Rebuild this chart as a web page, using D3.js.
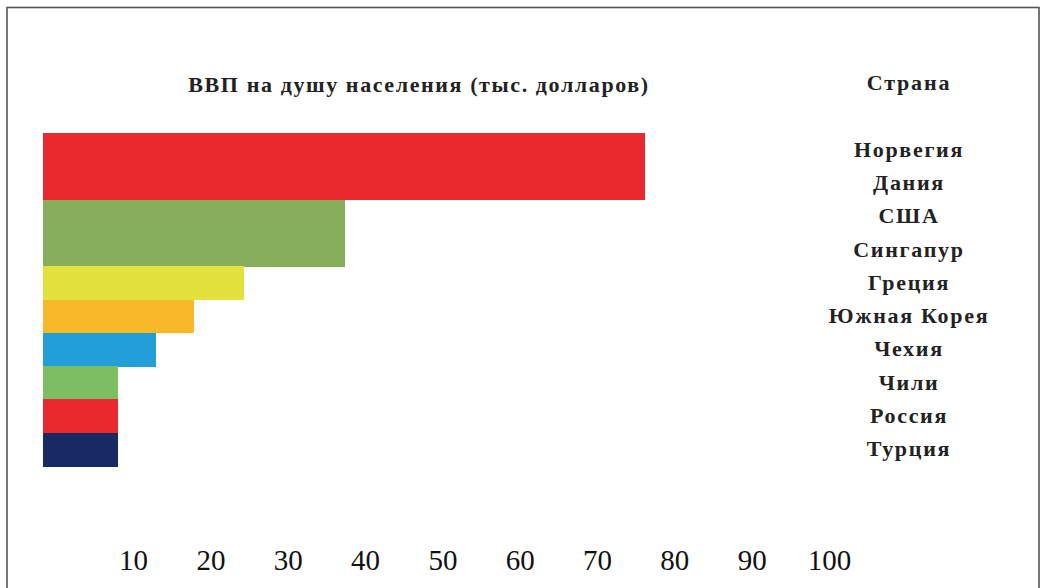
<!DOCTYPE html>
<html>
<head>
<meta charset="utf-8">
<script src="https://cdn.jsdelivr.net/npm/d3@7"></script>
<style>
  html, body { margin: 0; padding: 0; background: #fff; }
  svg { display: block; }
</style>
</head>
<body>
<svg id="chart" width="1041" height="588"></svg>
<script>
// ---- data ----
const countries = ["Норвегия", "Дания", "США", "Сингапур", "Греция", "Южная Корея", "Чехия", "Чили", "Россия", "Турция"];
const gdpValues = [76.2, 76.2, 37.4, 37.4, 24.3, 17.9, 12.9, 8.1, 8.1, 8.1];
const barColors = ["#e9292e", "#e9292e", "#86ae5b", "#86ae5b", "#e3e23c", "#f7b928", "#229fd8", "#7cbf63", "#e9292e", "#172a63"];
const tickValues = [10, 20, 30, 40, 50, 60, 70, 80, 90, 100];
const titleText = "ВВП на душу населения (тыс. долларов)";
const headerText = "Страна";

// ---- layout ----
const plotLeft = 42.5;
const serif = "'Liberation Serif', 'Times New Roman', serif";
const svg = d3.select("#chart");

// frame
svg.append("rect")
  .attr("x", 7).attr("y", 7.5)
  .attr("width", 1032).attr("height", 600)
  .attr("fill", "none").attr("stroke", "#555").attr("stroke-width", 1.6);

const x = d3.scaleLinear().domain([0, 100]).range([55.8, 829]);
const y = d3.scaleBand().domain(countries).range([133, 466]).padding(0);

// bars
svg.append("g").attr("shape-rendering", "crispEdges").selectAll("rect")
  .data(countries)
  .join("rect")
  .attr("x", plotLeft)
  .attr("y", d => y(d))
  .attr("width", (d, i) => x(gdpValues[i]) - plotLeft)
  .attr("height", y.bandwidth() + 0.6)
  .attr("fill", (d, i) => barColors[i]);

// bottom axis (labels only)
const axis = svg.append("g")
  .attr("transform", "translate(0,542)")
  .call(d3.axisBottom(x).tickValues(tickValues).tickSize(0).tickPadding(0).tickFormat(d3.format("d")));
axis.select(".domain").remove();
axis.selectAll("text")
  .attr("font-family", serif)
  .attr("font-size", 29)
  .attr("fill", "#111")
  .attr("dy", "0.95em");

// title
svg.append("text")
  .attr("x", 419).attr("y", 92)
  .attr("text-anchor", "middle")
  .attr("font-family", serif)
  .attr("font-weight", "bold")
  .attr("font-size", 22)
  .attr("letter-spacing", 1.6)
  .attr("fill", "#222")
  .text(titleText);

// column header
svg.append("text")
  .attr("x", 909).attr("y", 90)
  .attr("text-anchor", "middle")
  .attr("font-family", serif)
  .attr("font-weight", "bold")
  .attr("font-size", 22)
  .attr("letter-spacing", 1.8)
  .attr("fill", "#222")
  .text(headerText);

// country labels
svg.append("g").selectAll("text")
  .data(countries)
  .join("text")
  .attr("x", 909)
  .attr("y", d => y(d) + y.bandwidth() / 2 + 7)
  .attr("text-anchor", "middle")
  .attr("font-family", serif)
  .attr("font-weight", "bold")
  .attr("font-size", 22)
  .attr("letter-spacing", 1.7)
  .attr("fill", "#222")
  .text(d => d);
</script>
</body>
</html>
